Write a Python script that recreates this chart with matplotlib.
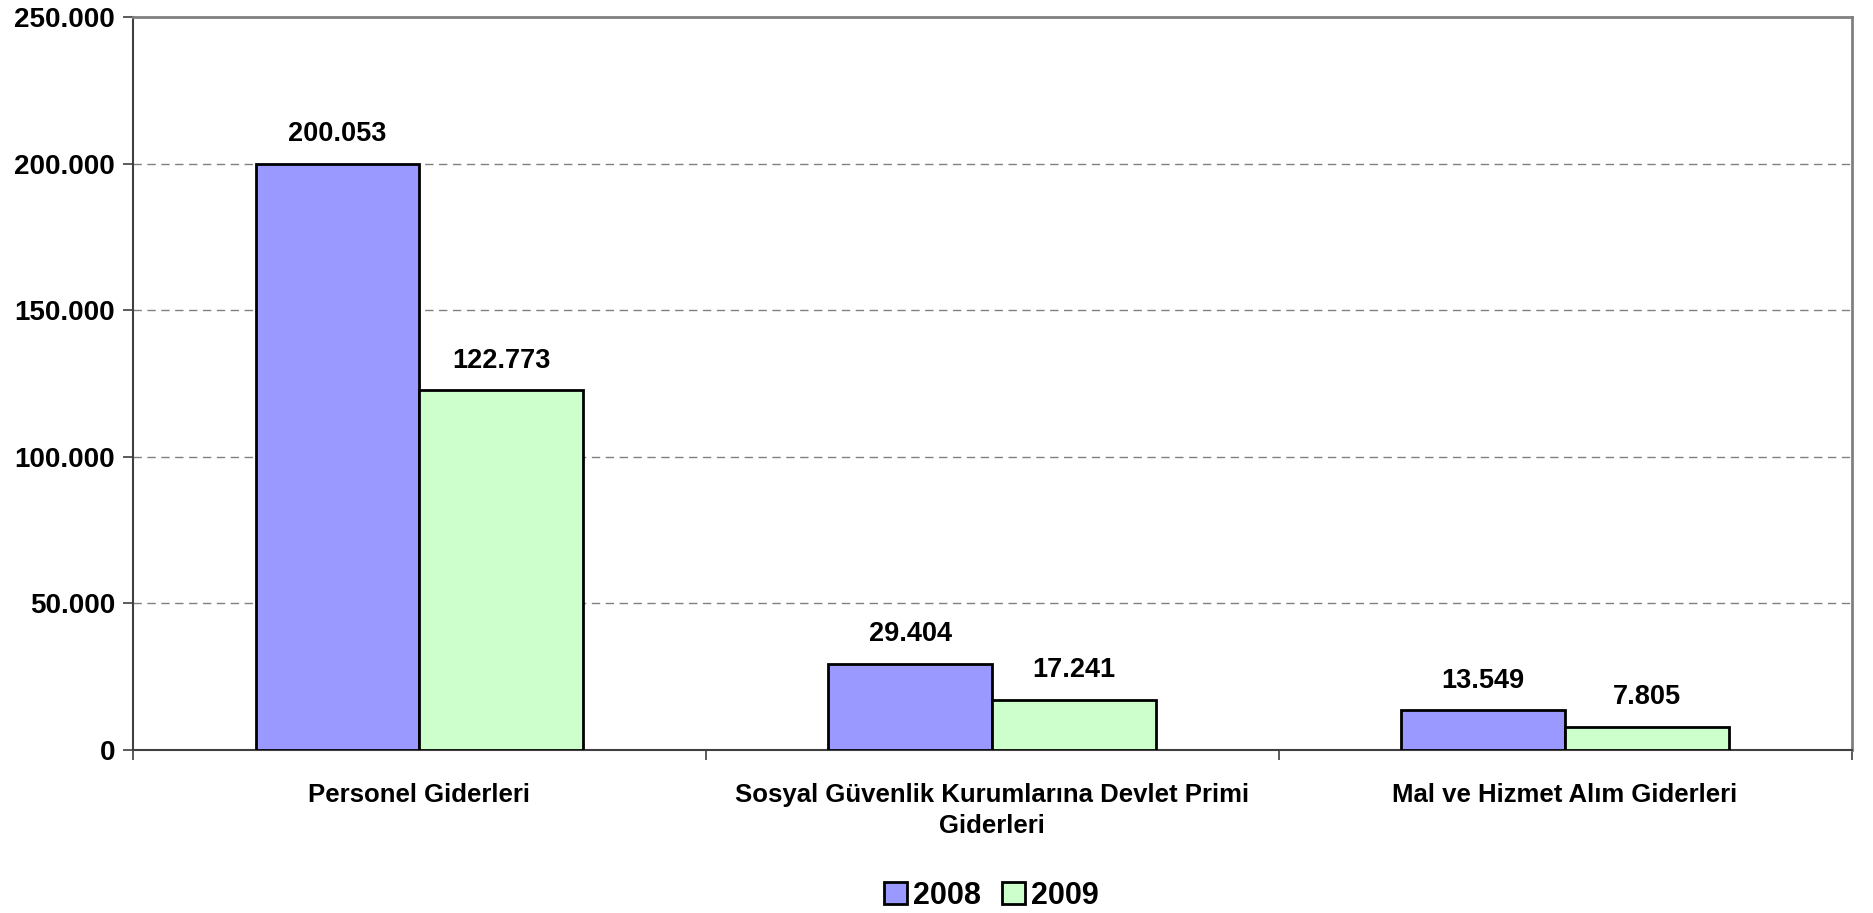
import numpy as np
import matplotlib
matplotlib.use('Agg')
import matplotlib.pyplot as plt
from matplotlib.ticker import FuncFormatter, FixedLocator

# data
categories = ['Personel Giderleri',
              'Sosyal Güvenlik Kurumlarına Devlet Primi\nGiderleri',
              'Mal ve Hizmet Alım Giderleri']
years = ['2008', '2009']
values_2008 = [200053, 29404, 13549]
values_2009 = [122773, 17241, 7805]
colors = ['#9999FF', '#CCFFCC']

plt.rcParams['font.family'] = ['Liberation Sans', 'DejaVu Sans']
plt.rcParams['font.weight'] = 'bold'


def thousands(v, pos=None):
	return '{:,.0f}'.format(v).replace(',', '.')


fig = plt.figure(figsize=(18.74, 9.13), dpi=100)
ax = fig.add_axes([0.071, 0.1785, 0.917, 0.8025])

x = np.arange(len(categories))
w = 0.286
series = [values_2008, values_2009]
for i, vals in enumerate(series):
	offs = (i - 0.5) * w
	bars = ax.bar(x + offs, vals, w, color=colors[i], edgecolor='black',
				  linewidth=2.0, label=years[i], zorder=3)
	for b, v in zip(bars, vals):
		ax.annotate(thousands(v), (b.get_x() + b.get_width() / 2, v),
					xytext=(0, 12), textcoords='offset points',
					ha='center', va='bottom', fontsize=19.5, fontweight='bold')

ax.set_xlim(-0.5, 2.5)
ax.set_ylim(0, 250000)
ax.set_yticks(np.arange(0, 250001, 50000))
ax.yaxis.set_major_formatter(FuncFormatter(thousands))
ax.tick_params(axis='y', labelsize=20, length=7, width=1.2, color='#404040', pad=6)

# category ticks at the boundaries, labels at the centres
ax.xaxis.set_major_locator(FixedLocator([-0.5, 0.5, 1.5, 2.5]))
ax.xaxis.set_major_formatter(FuncFormatter(lambda v, p: ''))
ax.xaxis.set_minor_locator(FixedLocator(x))
ax.set_xticklabels(categories, minor=True)
ax.tick_params(axis='x', which='major', length=7, width=1.2, color='#404040')
ax.tick_params(axis='x', which='minor', length=0, labelsize=18.5, pad=24)
for lab in ax.get_xticklabels(minor=True):
	lab.set_fontweight('bold')
	lab.set_linespacing(1.35)

for yv in [50000, 100000, 150000, 200000]:
	ax.axhline(yv, color='#808080', linewidth=1.0, dashes=(6, 4), zorder=1)

ax.spines['left'].set_color('#404040')
ax.spines['bottom'].set_color('#404040')
ax.spines['left'].set_linewidth(1.5)
ax.spines['bottom'].set_linewidth(1.5)
ax.spines['top'].set_color('#808080')
ax.spines['right'].set_color('#808080')
ax.spines['top'].set_linewidth(2)
ax.spines['right'].set_linewidth(2)

leg = fig.legend(loc='center', bbox_to_anchor=(0.529, 0.019), ncol=2,
				 frameon=False, fontsize=22, handlelength=0.75, handleheight=0.75,
				 handletextpad=0.2, columnspacing=0.7, borderaxespad=0)
for t in leg.get_texts():
	t.set_fontweight('bold')

fig.savefig('out.png', dpi=100)
